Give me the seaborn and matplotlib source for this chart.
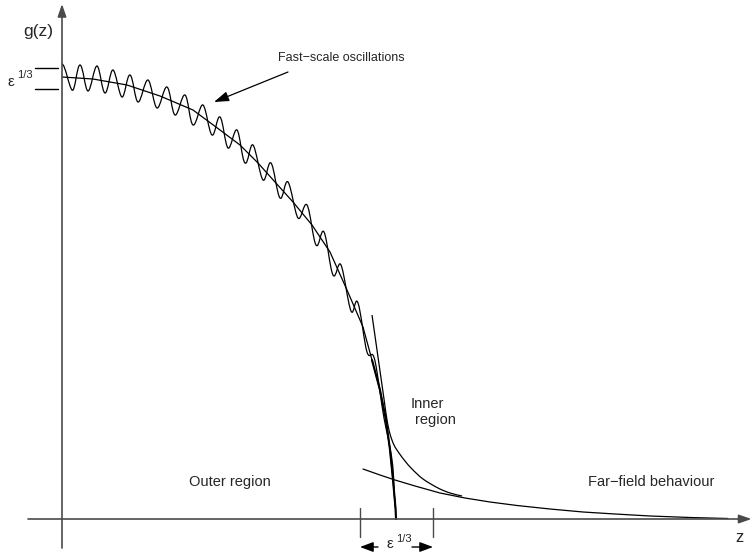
import numpy as np
import matplotlib
matplotlib.use("Agg")
import matplotlib.pyplot as plt
import seaborn as sns
from matplotlib.path import Path
from matplotlib.patches import PathPatch

# ---- data: (z, g) with origin at the axes crossing ----
outer_z = [0, 31, 65, 98, 131, 158, 178, 196, 213, 231, 250, 268, 285, 301, 310, 318, 324, 328, 331, 333.5, 334]
outer_g = [442, 440, 434, 423, 409, 389, 374, 356, 337, 317, 294, 267, 229, 192, 159, 129, 99, 69, 39, 11, 0]

# extrema (alternating peak / trough) of the fast-scale oscillating curve
osc_z = [0, 10, 18, 26, 35, 43, 51, 60, 68, 76, 86, 95, 105, 113, 123, 131, 141, 150, 158, 166,
         175, 183, 191, 201, 209, 218, 226, 236, 245, 254, 262, 271, 279, 289, 296, 305, 313, 322, 330, 333.5]
osc_g = [455, 429, 454, 428, 453, 426, 449, 422, 444, 417, 439, 411, 432, 404, 424, 394, 414, 384, 402, 371,
         389, 356, 374, 339, 356, 321, 337, 301, 314, 274, 287, 244, 254, 208, 216, 167, 158, 101, 59, 11]

inner_z = [310, 314, 318, 322, 325, 328, 332, 337, 343, 350, 361, 376, 388, 400]
inner_g = [204, 176, 148, 120, 99, 85, 74, 66, 58, 50, 40, 31, 26, 23]

far_z = [301, 318, 333, 353, 378, 403, 428, 455, 488, 521, 553, 588, 628, 666]
far_g = [50, 44, 39, 33, 26, 21, 17, 13.5, 10, 7, 5, 3, 1.5, 0.5]

eps_marks_g = [451, 430]     # left bracket marks of the oscillation amplitude
eps_marks_z = [298, 371]     # bottom marks of the inner-region width

labels = {
    "y": "g(z)",
    "x": "z",
    "fast": "Fast\u2212scale oscillations",
    "outer": "Outer region",
    "inner1": "Inner",
    "inner2": "region",
    "far": "Far\u2212field behaviour",
    "eps": "\u03b5",
    "exp": "1/3",
}


def smooth_path(zs, gs, tangent_span=1, s=1.0 / 3.0):
    """Cubic Bezier path through the read points (rendered by matplotlib)."""
    P = np.column_stack([zs, gs]).astype(float)
    n = len(P)
    T = np.zeros_like(P)
    for i in range(n):
        a = max(i - tangent_span, 0)
        b = min(i + tangent_span, n - 1)
        T[i] = (P[b] - P[a]) / (b - a)
    verts = [tuple(P[0])]
    codes = [Path.MOVETO]
    for i in range(n - 1):
        verts += [tuple(P[i] + s * T[i]), tuple(P[i + 1] - s * T[i + 1]), tuple(P[i + 1])]
        codes += [Path.CURVE4] * 3
    return Path(verts, codes)


# ---- figure ----
sns.set_theme(style="white")
plt.rcParams["font.family"] = ["Liberation Sans", "DejaVu Sans"]

fig = plt.figure(figsize=(7.52, 5.56), dpi=100)
ax = fig.add_axes([0, 0, 1, 1])
ax.set_xlim(-62, 690)
ax.set_ylim(-37, 519)
ax.axis("off")

axis_col = "#4a4a4a"
lw_thin = 0.9

# axes with arrows
arrow_kw = dict(arrowstyle="-|>,head_length=0.75,head_width=0.26", color=axis_col,
                lw=1.2, shrinkA=0, shrinkB=0, mutation_scale=10)
ax.annotate("", xy=(0, 515), xytext=(0, -29), arrowprops=arrow_kw)
ax.annotate("", xy=(689.5, 0), xytext=(-34, 0), arrowprops=arrow_kw)

# outer (mean) curve
sns.lineplot(x=outer_z, y=outer_g, sort=False, estimator=None, color="black",
             lw=lw_thin, ax=ax, legend=False)
# the steep end where outer curve and damped oscillation coincide looks heavier
sns.lineplot(x=outer_z[-7:], y=outer_g[-7:], sort=False, estimator=None, color="black",
             lw=1.5, ax=ax, legend=False)

# oscillating curve: smooth wave through the read extrema
ax.add_patch(PathPatch(smooth_path(osc_z, osc_g, tangent_span=2, s=0.364),
                       facecolor="none", edgecolor="black", lw=lw_thin))

# inner solution and far-field
ax.add_patch(PathPatch(smooth_path(inner_z, inner_g), facecolor="none",
                       edgecolor="black", lw=lw_thin))
sns.lineplot(x=far_z, y=far_g, sort=False, estimator=None, color="black",
             lw=lw_thin, ax=ax, legend=False)

# epsilon markers on the left
for g in eps_marks_g:
    ax.plot([-27, -4], [g, g], color="black", lw=1.0)
ax.text(-54.5, 432.5, labels["eps"], fontsize=11, ha="left", va="baseline")
ax.text(-45, 441, labels["exp"], fontsize=8, ha="left", va="baseline")

# inner-region width markers at the bottom
for z in eps_marks_z:
    ax.plot([z, z], [11, -18], color=axis_col, lw=1.0)
small_arrow = dict(arrowstyle="-|>,head_length=0.8,head_width=0.3", color="black",
                   lw=1.0, shrinkA=0, shrinkB=0, mutation_scale=10)
ax.annotate("", xy=(eps_marks_z[0], -28), xytext=(316, -28), arrowprops=small_arrow)
ax.annotate("", xy=(eps_marks_z[1], -28), xytext=(350, -28), arrowprops=small_arrow)
ax.text(324.5, -29.5, labels["eps"], fontsize=11, ha="left", va="baseline")
ax.text(334, -22.5, labels["exp"], fontsize=8, ha="left", va="baseline")

# text labels
ax.text(-24, 487.5, labels["y"], fontsize=12.5, ha="center", va="center")
ax.text(677.5, -18, labels["x"], fontsize=12, ha="center", va="center")
ax.text(216, 461, labels["fast"], fontsize=9, ha="left", va="center")
ax.annotate("", xy=(152, 417), xytext=(226, 447),
            arrowprops=dict(arrowstyle="-|>,head_length=0.9,head_width=0.3", color="black",
                            lw=0.9, shrinkA=0, shrinkB=0, mutation_scale=10))
ax.text(168, 37, labels["outer"], fontsize=10.5, ha="center", va="center")
ax.text(349, 115, labels["inner1"], fontsize=10.5, ha="left", va="center")
ax.text(353, 99, labels["inner2"], fontsize=10.5, ha="left", va="center")
ax.text(589, 37, labels["far"], fontsize=10.5, ha="center", va="center")

fig.savefig("out.png", dpi=100, facecolor="white")
